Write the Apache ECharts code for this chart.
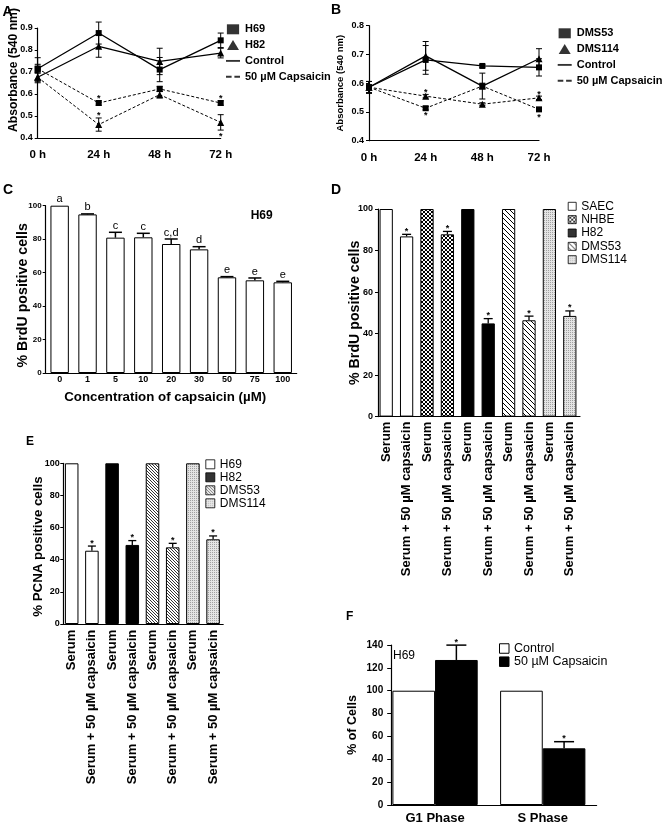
<!DOCTYPE html>
<html><head><meta charset="utf-8">
<script src="https://cdn.jsdelivr.net/npm/echarts@6.0.0/dist/echarts.min.js"></script>
<style>html,body{margin:0;padding:0;background:#fff}#c{width:662px;height:826px}</style>
</head><body><div id="c"></div>
<script>
// ---------------- DATA ----------------
const timeLabels = ['0 h', '24 h', '48 h', '72 h'];
// Panel A (H69 / H82), absorbance 540 nm
const aH69Control = [0.715, 0.877, 0.711, 0.844];
const aH69ControlErr = [0.05, 0.05, 0.055, 0.033];
const aH82Control = [0.676, 0.817, 0.748, 0.786];
const aH82ControlErr = [0.025, 0.05, 0.06, 0.022];
const aH69Caps = [0.715, 0.559, 0.623, 0.559];
const aH69CapsErr = [0.02, 0.01, 0.012, 0.01];
const aH82Caps = [0.676, 0.461, 0.597, 0.471];
const aH82CapsErr = [0.02, 0.03, 0.015, 0.035];
const aH69CapsSig = [0, 1, 0, 1];   // 1 = asterisk above, -1 = below
const aH82CapsSig = [0, 1, 0, -1];
// Panel B (DMS53 / DMS114)
const bDMS53Control = [0.586, 0.681, 0.66, 0.655];
const bDMS53ControlErr = [0.02, 0.05, 0.005, 0.03];
const bDMS114Control = [0.586, 0.695, 0.59, 0.685];
const bDMS114ControlErr = [0.02, 0.05, 0.045, 0.035];
const bDMS53Caps = [0.586, 0.513, 0.59, 0.509];
const bDMS53CapsErr = [0.02, 0.006, 0.01, 0.006];
const bDMS114Caps = [0.586, 0.555, 0.527, 0.549];
const bDMS114CapsErr = [0.02, 0.006, 0.005, 0.006];
const bDMS53CapsSig = [0, -1, 0, -1];
const bDMS114CapsSig = [0, 1, 0, 1];
// Panel C (H69 dose response)
const cLabels = ['0', '1', '5', '10', '20', '30', '50', '75', '100'];
const cValues = [100, 94.8, 80.9, 81.1, 77.1, 73.9, 57.2, 55.4, 54.2];
const cErr = [0, 0.3, 3.2, 2.4, 3.0, 1.6, 0.4, 1.4, 0.6];
const cLetters = ['a', 'b', 'c', 'c', 'c,d', 'd', 'e', 'e', 'e'];
// Panel D (BrdU)
const dLabels = ['Serum', 'Serum + 50 µM capsaicin', 'Serum', 'Serum + 50 µM capsaicin', 'Serum', 'Serum + 50 µM capsaicin', 'Serum', 'Serum + 50 µM capsaicin', 'Serum', 'Serum + 50 µM capsaicin'];
const dCells = ['SAEC', 'SAEC', 'NHBE', 'NHBE', 'H82', 'H82', 'DMS53', 'DMS53', 'DMS114', 'DMS114'];
const dValues = [100, 86.8, 100, 87.8, 100, 44.9, 100, 46.4, 100, 48.5];
const dErr = [0, 1.0, 0, 1.4, 0, 2.3, 0, 2.0, 0, 2.4];
const dSig = ['', '*', '', '*', '', '*', '', '*', '', '*'];
const dLegend = ['SAEC', 'NHBE', 'H82', 'DMS53', 'DMS114'];
// Panel E (PCNA)
const eLabels = ['Serum', 'Serum + 50 µM capsaicin', 'Serum', 'Serum + 50 µM capsaicin', 'Serum', 'Serum + 50 µM capsaicin', 'Serum', 'Serum + 50 µM capsaicin'];
const eCells = ['H69', 'H69', 'H82', 'H82', 'DMS53', 'DMS53', 'DMS114', 'DMS114'];
const eValues = [100, 45.6, 100, 49.2, 100, 47.7, 100, 52.7];
const eErr = [0, 2.9, 0, 2.7, 0, 2.5, 0, 2.1];
const eSig = ['', '*', '', '*', '', '*', '', '*'];
const eLegend = ['H69', 'H82', 'DMS53', 'DMS114'];
// Panel F (cell cycle)
const fLabels = ['G1 Phase', 'S Phase'];
const fControl = [100, 100];
const fCaps = [126.9, 49.6];
const fCapsErr = [13, 5.8];
const fCapsSig = ['*', '*'];

// ---------------- STYLE HELPERS ----------------
const FONT = '"Liberation Sans", Arial, Helvetica, sans-serif';
function pattern(size, bg, fg, pixels) {
  const c = document.createElement('canvas');
  c.width = c.height = size;
  const g = c.getContext('2d');
  g.fillStyle = bg; g.fillRect(0, 0, size, size);
  g.fillStyle = fg;
  pixels.forEach(p => g.fillRect(p[0], p[1], 1, 1));
  return { image: c, repeat: 'repeat' };
}
function diag(n) { const r = []; for (let i = 0; i < n; i++) r.push([i, i]); return r; }
function antiDiag(n) { const r = []; for (let i = 0; i < n; i++) r.push([n - 1 - i, i]); return r; }
const PAT = {
  nhbe: pattern(4, '#fff', '#000', diag(4).concat(antiDiag(4))),
  dms53: pattern(5, '#fff', '#000', diag(5)),
  dms53e: pattern(3, '#fff', '#333', diag(3)),
  dms114: pattern(2, '#e4e4e4', '#a0a0a0', [[0, 0]])
};
const cellFill = { SAEC: '#fff', NHBE: PAT.nhbe, H82: '#000', DMS53: PAT.dms53, DMS114: PAT.dms114, H69: '#fff' };
const cellFillE = { H69: '#fff', H82: '#000', DMS53: PAT.dms53e, DMS114: PAT.dms114 };

const axisLine = { show: true, lineStyle: { color: '#000', width: 1.2 } };
const boldLbl = (size, extra) => Object.assign({ color: '#000', fontWeight: 'bold', fontSize: size, fontFamily: FONT }, extra || {});

function starText(x, yc, size) {
  return { type: 'text', style: { text: '*', x: x, y: yc + 2, align: 'center', verticalAlign: 'middle', font: 'bold ' + (size || 9) + 'px ' + FONT, fill: '#000' } };
}
function seg(x1, y1, x2, y2, w) {
  return { type: 'line', shape: { x1: x1, y1: y1, x2: x2, y2: y2 }, style: { stroke: '#000', lineWidth: w || 1 } };
}
function lineErrRender(params, api) {
  const x = api.value(0), v = api.value(1), e = api.value(2), s = api.value(3);
  const p1 = api.coord([x, v + e]), p2 = api.coord([x, v - e]);
  const cw = 3;
  const ch = [seg(p1[0], p1[1], p2[0], p2[1]), seg(p1[0] - cw, p1[1], p1[0] + cw, p1[1]), seg(p2[0] - cw, p2[1], p2[0] + cw, p2[1])];
  if (s > 0) ch.push(starText(p1[0], p1[1] - 4));
  if (s < 0) ch.push(starText(p2[0], p2[1] + 4));
  return { type: 'group', children: ch };
}
function lineErrSeries(idx, vals, errs, sigs) {
  return { type: 'custom', xAxisIndex: idx, yAxisIndex: idx, silent: true, z: 2,
    data: vals.map((v, i) => [i, v, errs[i], sigs ? sigs[i] : 0]), renderItem: lineErrRender };
}
function lineSeries(idx, name, vals, sym, dashed) {
  return { type: 'line', name: name, xAxisIndex: idx, yAxisIndex: idx, data: vals, silent: true, z: 3,
    symbol: sym, symbolSize: sym === 'rect' ? 6 : [7, 7], showSymbol: true,
    itemStyle: { color: '#000' },
    lineStyle: { color: '#000', width: dashed ? 1 : 1.3, type: dashed ? [3, 2] : 'solid' } };
}
// bar error bars (upward only) with optional annotation text
function barErrSeries(idx, vals, errs, notes, opt) {
  return { type: 'custom', xAxisIndex: idx, yAxisIndex: idx, silent: true, z: 4,
    data: vals.map((v, i) => [i, v, errs[i]]),
    renderItem: function (params, api) {
      const x = api.value(0), v = api.value(1), e = api.value(2);
      const band = api.size([1, 0])[0];
      const p0 = api.coord([x, v]), p1 = api.coord([x, v + e]);
      const cx = p0[0] + (opt.offset || 0) * band;
      const ch = [];
      if (e > 0) {
        ch.push(seg(cx, p0[1], cx, p1[1], opt.lw), seg(cx - opt.cap / 2, p1[1], cx + opt.cap / 2, p1[1], opt.lw));
      }
      const note = notes ? notes[params.dataIndex] : '';
      if (note === '*') ch.push(starText(cx, p1[1] - 5, opt.starSize));
      else if (note) ch.push({ type: 'text', style: { text: note, x: cx, y: p1[1] - 1, align: 'center', verticalAlign: 'bottom', font: '11px ' + FONT, fill: '#000' } });
      return { type: 'group', children: ch };
    } };
}
function dummy(idx, name, itemStyle) {
  return { type: 'scatter', name: name, xAxisIndex: idx, yAxisIndex: idx, data: [], itemStyle: itemStyle };
}
const ICON = {
  square: 'path://M0,0h11v9h-11z',
  tri: 'path://M6,0L12,10L0,10z',
  line: 'path://M0,0h15v2h-15z',
  dash: 'path://M0,0h6v2h-6zM9,0h6v2h-6z'
};
const strip = n => n.split('|')[1];

// ---------------- OPTION ----------------
const gridBase = { containLabel: false, outerBoundsMode: 'none' };
const option = {
  backgroundColor: '#fff',
  animation: false,
  textStyle: { fontFamily: FONT },
  title: [
    { text: 'A', left: 2.5, top: 4.7 },
    { text: 'B', left: 331, top: 3 },
    { text: 'C', left: 3, top: 183 },
    { text: 'D', left: 331, top: 183 },
    { text: 'E', left: 26, top: 436, textStyle: { fontSize: 12 } },
    { text: 'F', left: 346, top: 611, textStyle: { fontSize: 12 } },
    { text: 'H69', left: 250.7, top: 210, textStyle: { fontSize: 12 } },
    { text: 'H69', left: 393, top: 649.5, textStyle: { fontSize: 12, fontWeight: 'normal' } }
  ].map(t => Object.assign({ padding: 0, itemGap: 0 }, t, {
    textStyle: Object.assign({ color: '#000', fontWeight: 'bold', fontSize: 14, fontFamily: FONT }, t.textStyle || {})
  })),
  grid: [
    { left: 37.7, top: 28, width: 183, height: 110 },
    { left: 369, top: 25.7, width: 170, height: 115 },
    { left: 45.7, top: 205.7, width: 251, height: 167.3 },
    { left: 376, top: 209, width: 204, height: 207.6 },
    { left: 61.6, top: 463.3, width: 161.6, height: 160.7 },
    { left: 381.2, top: 645, width: 215.4, height: 160 },
    { left: 391, top: 645, width: 205.6, height: 160 }
  ].map(g => Object.assign({}, gridBase, g)),
  xAxis: [
    { gridIndex: 0, type: 'category', data: timeLabels, boundaryGap: false, axisLine: axisLine, axisTick: { show: false },
      axisLabel: boldLbl(11.5, { margin: 11, interval: 0 }) },
    { gridIndex: 1, type: 'category', data: timeLabels, boundaryGap: false, axisLine: axisLine, axisTick: { show: false },
      axisLabel: boldLbl(11.5, { margin: 11, interval: 0 }) },
    { gridIndex: 2, type: 'category', data: cLabels, axisLine: axisLine, axisTick: { show: false },
      axisLabel: boldLbl(9, { margin: 2, interval: 0 }),
      name: 'Concentration of capsaicin (µM)', nameLocation: 'middle', nameGap: 18, nameMoveOverlap: false,
      nameTextStyle: boldLbl(13.3, { padding: [0, 12, 0, 0] }) },
    { gridIndex: 3, type: 'category', data: dLabels.map((l, i) => 'd' + i), axisLine: axisLine, axisTick: { show: false },
      axisLabel: boldLbl(13, { margin: 5, rotate: 90, interval: 0, formatter: (v, i) => dLabels[i] }) },
    { gridIndex: 4, type: 'category', data: eLabels.map((l, i) => 'e' + i), axisLine: axisLine, axisTick: { show: false },
      axisLabel: boldLbl(13, { margin: 5.7, rotate: 90, interval: 0, formatter: (v, i) => eLabels[i] }) },
    { gridIndex: 5, type: 'category', data: fLabels, axisLine: { show: false }, axisTick: { show: false },
      axisLabel: boldLbl(13, { margin: 6.5, interval: 0 }) },
    { gridIndex: 6, type: 'value', min: 0, max: 1, axisLine: axisLine, axisTick: { show: false }, axisLabel: { show: false }, splitLine: { show: false } }
  ],
  yAxis: [
    { gridIndex: 0, type: 'value', min: 0.4, max: 0.9, interval: 0.1, axisLine: axisLine,
      axisTick: { show: true, length: 3, lineStyle: { color: '#000' } }, splitLine: { show: false },
      axisLabel: boldLbl(9, { margin: 5, formatter: v => v.toFixed(1) }),
      name: 'Absorbance (540 nm)', nameLocation: 'middle', nameGap: 18.4, nameMoveOverlap: false,
      nameTextStyle: boldLbl(12.2, { padding: [0, 0, 0, 26] }) },
    { gridIndex: 1, type: 'value', min: 0.4, max: 0.8, interval: 0.1, axisLine: axisLine,
      axisTick: { show: true, length: 3, lineStyle: { color: '#000' } }, splitLine: { show: false },
      axisLabel: boldLbl(9, { margin: 5, formatter: v => v.toFixed(1) }),
      name: 'Absorbance (540 nm)', nameLocation: 'middle', nameGap: 23.5, nameMoveOverlap: false,
      nameTextStyle: boldLbl(9.5) },
    { gridIndex: 2, type: 'value', min: 0, max: 100, interval: 20, axisLine: axisLine,
      axisTick: { show: true, length: 3, lineStyle: { color: '#000' } }, splitLine: { show: false },
      axisLabel: boldLbl(8, { margin: 4 }),
      name: '% BrdU positive cells', nameLocation: 'middle', nameGap: 16, nameMoveOverlap: false,
      nameTextStyle: boldLbl(14.2, { padding: [0, 12, 0, 0] }) },
    { gridIndex: 3, type: 'value', min: 0, max: 100, interval: 20, offset: -2, axisLine: axisLine,
      axisTick: { show: true, length: 3, lineStyle: { color: '#000' } }, splitLine: { show: false },
      axisLabel: boldLbl(9, { margin: 5 }),
      name: '% BrdU positive cells', nameLocation: 'middle', nameGap: 16, nameMoveOverlap: false,
      nameTextStyle: boldLbl(14.2) },
    { gridIndex: 4, type: 'value', min: 0, max: 100, interval: 20, offset: -1.7, axisLine: axisLine,
      axisTick: { show: true, length: 3, lineStyle: { color: '#000' } }, splitLine: { show: false },
      axisLabel: boldLbl(9, { margin: 3.5 }),
      name: '% PCNA positive cells', nameLocation: 'middle', nameGap: 18, nameMoveOverlap: false,
      nameTextStyle: boldLbl(13.3, { padding: [0, 6, 0, 0] }) },
    { gridIndex: 5, type: 'value', min: 0, max: 140, interval: 20, offset: -10, axisLine: axisLine,
      axisTick: { show: true, length: 4, lineStyle: { color: '#000' } }, splitLine: { show: false },
      axisLabel: boldLbl(10, { margin: 8 }),
      name: '% of Cells', nameLocation: 'middle', nameGap: 31.7, nameMoveOverlap: false,
      nameTextStyle: boldLbl(12.5) },
    { gridIndex: 6, type: 'value', show: false }
  ],
  legend: [
    { left: 226, top: 23.8, orient: 'vertical', padding: 0, itemWidth: 14, itemHeight: 10, itemGap: 4.8,
      selectedMode: false, symbolKeepAspect: true, formatter: strip, textStyle: boldLbl(11),
      data: [{ name: 'A|H69', icon: ICON.square }, { name: 'A|H82', icon: ICON.tri },
             { name: 'A|Control', icon: ICON.line }, { name: 'A|50 µM Capsaicin', icon: ICON.dash }] },
    { left: 557.7, top: 27.8, orient: 'vertical', padding: 0, itemWidth: 14, itemHeight: 10, itemGap: 4.8,
      selectedMode: false, symbolKeepAspect: true, formatter: strip, textStyle: boldLbl(11),
      data: [{ name: 'B|DMS53', icon: ICON.square }, { name: 'B|DMS114', icon: ICON.tri },
             { name: 'B|Control', icon: ICON.line }, { name: 'B|50 µM Capsaicin', icon: ICON.dash }] },
    { left: 567.7, top: 200.3, orient: 'vertical', padding: 0, itemWidth: 8, itemHeight: 8, itemGap: 1.35,
      selectedMode: false, formatter: strip, textStyle: { color: '#000', fontSize: 12, fontFamily: FONT },
      data: dLegend.map(n => ({ name: 'D|' + n, icon: 'rect', itemStyle: { borderColor: '#000', borderWidth: 1 } })) },
    { left: 205.3, top: 458.3, orient: 'vertical', padding: 0, itemWidth: 9, itemHeight: 9, itemGap: 1,
      selectedMode: false, formatter: strip, textStyle: { color: '#000', fontSize: 12, fontFamily: FONT },
      data: eLegend.map(n => ({ name: 'E|' + n, icon: 'rect', itemStyle: { borderColor: '#000', borderWidth: 1 } })) },
    { left: 499, top: 642, orient: 'vertical', padding: 0, itemWidth: 9.5, itemHeight: 9.5, itemGap: 0.2,
      selectedMode: false, formatter: strip, textStyle: { color: '#000', fontSize: 12.5, fontFamily: FONT },
      data: [{ name: 'F|Control', icon: 'rect', itemStyle: { borderColor: '#000', borderWidth: 1 } },
             { name: 'F|50 µM Capsaicin', icon: 'rect', itemStyle: { borderColor: '#000', borderWidth: 1 } }] }
  ],
  series: []
};

const S = option.series;
// Panel A
S.push(lineSeries(0, 'A H69 control', aH69Control, 'rect', false));
S.push(lineSeries(0, 'A H82 control', aH82Control, 'triangle', false));
S.push(lineSeries(0, 'A H69 capsaicin', aH69Caps, 'rect', true));
S.push(lineSeries(0, 'A H82 capsaicin', aH82Caps, 'triangle', true));
S.push(lineErrSeries(0, aH69Control, aH69ControlErr));
S.push(lineErrSeries(0, aH82Control, aH82ControlErr));
S.push(lineErrSeries(0, aH69Caps, aH69CapsErr, aH69CapsSig));
S.push(lineErrSeries(0, aH82Caps, aH82CapsErr, aH82CapsSig));
['A|H69', 'A|H82', 'A|Control', 'A|50 µM Capsaicin'].forEach(n => S.push(dummy(0, n, { color: '#000', borderWidth: 0 })));
// Panel B
S.push(lineSeries(1, 'B DMS53 control', bDMS53Control, 'rect', false));
S.push(lineSeries(1, 'B DMS114 control', bDMS114Control, 'triangle', false));
S.push(lineSeries(1, 'B DMS53 capsaicin', bDMS53Caps, 'rect', true));
S.push(lineSeries(1, 'B DMS114 capsaicin', bDMS114Caps, 'triangle', true));
S.push(lineErrSeries(1, bDMS53Control, bDMS53ControlErr));
S.push(lineErrSeries(1, bDMS114Control, bDMS114ControlErr));
S.push(lineErrSeries(1, bDMS53Caps, bDMS53CapsErr, bDMS53CapsSig));
S.push(lineErrSeries(1, bDMS114Caps, bDMS114CapsErr, bDMS114CapsSig));
['B|DMS53', 'B|DMS114', 'B|Control', 'B|50 µM Capsaicin'].forEach(n => S.push(dummy(1, n, { color: '#000', borderWidth: 0 })));
// Panel C
S.push({ type: 'bar', name: 'C', xAxisIndex: 2, yAxisIndex: 2, data: cValues, barCategoryGap: '34%', silent: true,
  itemStyle: { color: '#fff', borderColor: '#000', borderWidth: 1 } });
S.push(barErrSeries(2, cValues, cErr, cLetters, { cap: 13, lw: 1.5, starSize: 9 }));
// Panel D
S.push({ type: 'bar', name: 'D', xAxisIndex: 3, yAxisIndex: 3, barCategoryGap: '35%', silent: true,
  data: dValues.map((v, i) => ({ value: v, itemStyle: { color: cellFill[dCells[i]], borderColor: '#000', borderWidth: 1 } })) });
S.push(barErrSeries(3, dValues, dErr, dSig, { cap: 9, lw: 1.3, starSize: 9 }));
dLegend.forEach(n => S.push(dummy(3, 'D|' + n, { color: cellFill[n], borderColor: '#000', borderWidth: 1 })));
// Panel E
S.push({ type: 'bar', name: 'E', xAxisIndex: 4, yAxisIndex: 4, barCategoryGap: '33%', silent: true,
  data: eValues.map((v, i) => ({ value: v, itemStyle: { color: cellFillE[eCells[i]], borderColor: '#000', borderWidth: 1 } })) });
S.push(barErrSeries(4, eValues, eErr, eSig, { cap: 8, lw: 1.3, starSize: 9 }));
eLegend.forEach(n => S.push(dummy(4, 'E|' + n, { color: cellFillE[n], borderColor: '#000', borderWidth: 1 })));
// Panel F
S.push({ type: 'bar', name: 'F|Control', xAxisIndex: 5, yAxisIndex: 5, data: fControl, barGap: '0%', barCategoryGap: '20.8%', silent: true,
  itemStyle: { color: '#fff', borderColor: '#000', borderWidth: 1 } });
S.push({ type: 'bar', name: 'F|50 µM Capsaicin', xAxisIndex: 5, yAxisIndex: 5, data: fCaps, barGap: '0%', barCategoryGap: '20.8%', silent: true,
  itemStyle: { color: '#000', borderColor: '#000', borderWidth: 1 } });
S.push(barErrSeries(5, fCaps, fCapsErr, fCapsSig, { cap: 20, lw: 1.5, starSize: 9, offset: (1 - 0.208) / 4 }));

const chart = echarts.init(document.getElementById('c'), null, { renderer: 'canvas' });
chart.setOption(option);
</script>
</body></html>
